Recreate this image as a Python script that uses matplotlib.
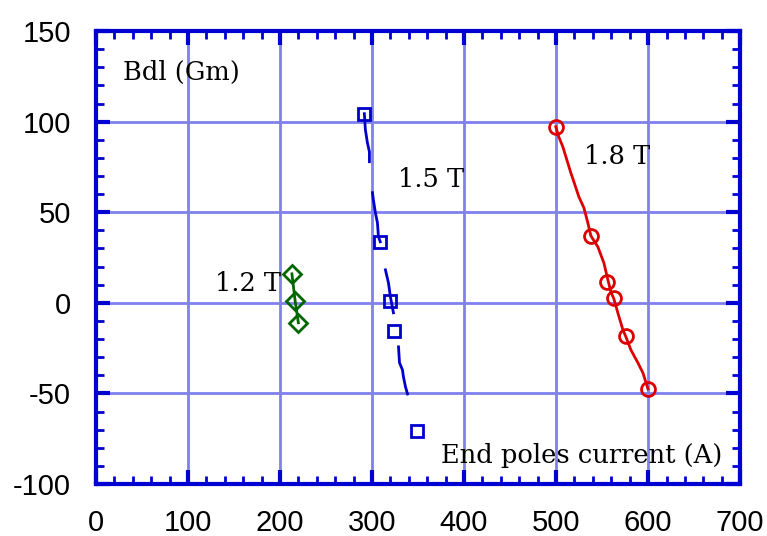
import numpy as np
import matplotlib
matplotlib.use("Agg")
import matplotlib.pyplot as plt
from matplotlib.ticker import MultipleLocator

plt.rcParams["axes.unicode_minus"] = False

# 1.2 T data
x12 = [213, 216.5, 220]
y12 = [16, 1, -11]

# 1.5 T measured points (squares)
x15_pts = [291.7, 309, 320, 324.4, 349.4]
y15_pts = [104.4, 33.7, 1, -15.5, -71]
# 1.5 T curve segments (gaps as NaN)
x15_line = [291.7, 292.8, 295, 297.2, 297.2, np.nan,
            300.5, 301.5, 303.7, 305.9, 307, 309, np.nan,
            314.6, 317.9, 320, 323.3, np.nan,
            328.8, 329.9, 333.1, 334.2, 336.4, 338.6]
y15_line = [104.4, 95.6, 88.4, 83.4, 77.9, np.nan,
            60.8, 56.9, 49.7, 44.2, 36.5, 33.7, np.nan,
            18.2, 11, 3.3, -5.5, np.nan,
            -24.3, -33.1, -37, -40.9, -46.4, -50.3]

# 1.8 T measured points (circles)
x18_pts = [499.7, 537.8, 555.2, 562.8, 575.9, 599.8]
y18_pts = [97.2, 37, 11.6, 2.8, -18.2, -47.5]
x18_line = [499.7, 502.9, 507.3, 512.7, 516, 519.3, 524.7, 530.2, 534.5, 537.8,
            545.4, 551.9, 556.3, 559.5, 562.8, 567.1, 572.6, 575.9, 581.3,
            588.9, 594.4, 599.8]
y18_line = [97.2, 91.7, 86.2, 77.3, 71.8, 66.9, 58.6, 52.5, 44.2, 37,
            30.9, 22.1, 12.7, 6.1, 2.2, -5.5, -14.9, -18.8, -26,
            -33.1, -38.7, -47.5]

xticks = [0, 100, 200, 300, 400, 500, 600, 700]
yticks = [-100, -50, 0, 50, 100, 150]

frame_c = "#0000d0"
grid_c = "#8080ee"

fig = plt.figure(figsize=(7.67, 5.36), dpi=100)
ax = fig.add_axes([0.125, 0.097, 0.84, 0.845])

ax.set_xlim(0, 700)
ax.set_ylim(-100, 150)
ax.set_xticks(xticks)
ax.set_yticks(yticks)
ax.xaxis.set_minor_locator(MultipleLocator(20))
ax.yaxis.set_minor_locator(MultipleLocator(10))
ax.grid(True, which="major", color=grid_c, lw=2)
ax.set_axisbelow(True)
for s in ax.spines.values():
    s.set_color(frame_c)
    s.set_linewidth(3)
ax.tick_params(which="both", direction="in", color=frame_c, top=True, right=True,
               labelsize=21)
ax.tick_params(axis="x", which="major", pad=18)
ax.tick_params(axis="y", which="major", pad=18)
ax.tick_params(which="major", length=10, width=3)
ax.tick_params(which="minor", length=6, width=2)
for lab in ax.get_xticklabels() + ax.get_yticklabels():
    lab.set_family("Liberation Sans")

ax.plot(x12, y12, color="#006600", lw=2, marker="D", ms=9, mfc="none", mew=2)
ax.plot(x15_line, y15_line, color="#0000cc", lw=2)
ax.plot(x15_pts, y15_pts, ls="none", color="#0000cc", marker="s", ms=9, mfc="none", mew=2)
ax.plot(x18_line, y18_line, color="#dd0000", lw=2)
ax.plot(x18_pts, y18_pts, ls="none", color="#dd0000", marker="o", ms=10, mfc="none", mew=2)

tf = dict(family="DejaVu Serif", fontsize=18.5, color="black")
ax.text(29, 127, "Bdl (Gm)", va="center", ha="left", **tf)
ax.text(328, 68, "1.5 T", va="center", ha="left", **tf)
ax.text(530, 81, "1.8 T", va="center", ha="left", **tf)
ax.text(129, 10.5, "1.2 T", va="center", ha="left", **tf)
ax.text(375, -84.5, "End poles current (A)", va="center", ha="left", **tf)

fig.savefig("out.png", dpi=100)
